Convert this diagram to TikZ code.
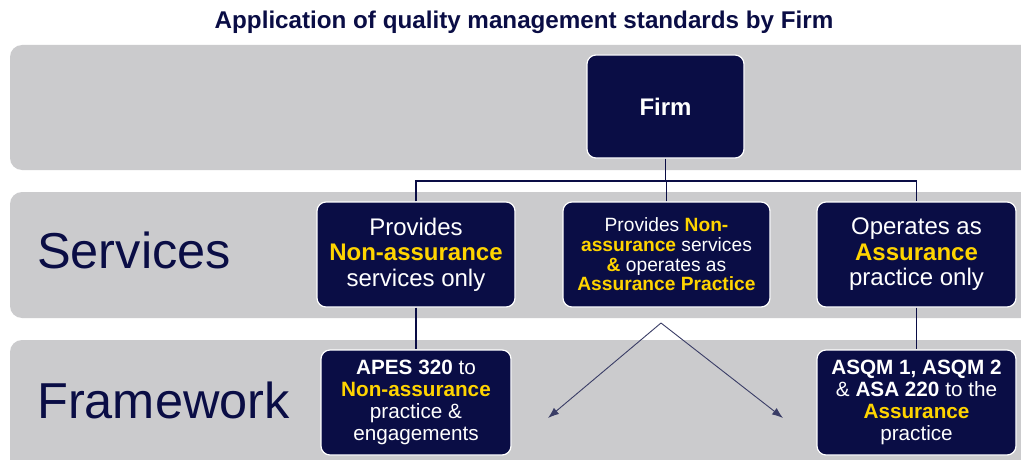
\documentclass[tikz,border=0pt]{standalone}
\usepackage{fontspec}
\setmainfont{Liberation Sans}
\usetikzlibrary{arrows.meta}
\definecolor{navy}{HTML}{0A0D45}
\definecolor{gold}{HTML}{FFD400}
\definecolor{bandgrey}{HTML}{CBCBCD}
\definecolor{arrowgrey}{HTML}{3A3D66}
\newcommand{\hl}[1]{\textcolor{gold}{\textbf{#1}}}

\begin{document}
\begin{tikzpicture}[x=1pt,y=-1pt,
  band/.style={fill=bandgrey, rounded corners=12pt},
  card/.style={draw=white, line width=1.2pt, fill=navy, rounded corners=9pt,
    text=white, align=center, inner sep=0pt},
  bigtext/.style={font=\fontsize{24}{25.5}\selectfont},
  midtext/.style={font=\fontsize{19.2}{19.6}\selectfont},
  lowtext/.style={font=\fontsize{20.7}{22}\selectfont},
  rowlabel/.style={anchor=base west, inner sep=0pt, text=navy,
    font=\fontsize{50.5}{52}\selectfont},
  link/.style={draw=navy, line width=1.8pt},
  pointer/.style={draw=arrowgrey, line width=0.9pt,
    -{Latex[length=11pt,width=8pt]}}]
\useasboundingbox (0,0) rectangle (1021,460);
\fill[white] (0,0) rectangle (1021,460);

% title
\node[anchor=base, inner sep=0pt, text=navy,
  font=\fontsize{24.2}{26}\selectfont\bfseries] (title) at (524,29)
  {Application of quality management standards by Firm};

% grey bands
\fill[band] (10,45) rectangle (1050,170);
\fill[band] (10,192) rectangle (1050,318);
\fill[band] (10,340) rectangle (1050,490);

% row labels
\node[rowlabel] (services) at (37,268) {Services};
\node[rowlabel] (framework) at (37,418) {Framework};

% boxes
\node[card, minimum width=157pt, minimum height=103pt,
  font=\fontsize{24}{26}\selectfont\bfseries] (firm) at (665.5,106.5) {Firm};

\node[card, bigtext, minimum width=198pt, minimum height=105pt] (b1) at (416,254.5)
  {Provides\\\hl{Non-assurance}\\services only};
\node[card, midtext, minimum width=207pt, minimum height=105pt] (b2) at (666.5,254.5)
  {Provides \hl{Non-}\\\hl{assurance} services\\\hl{\&} operates as\\\hl{Assurance Practice}};
\node[card, bigtext, minimum width=199pt, minimum height=105pt] (b3) at (916.5,254.5)
  {Operates as\\\hl{Assurance}\\practice only};

\node[card, lowtext, minimum width=190pt, minimum height=105pt] (b4) at (416,402.5)
  {\textbf{APES 320} to\\\hl{Non-assurance}\\practice \&\\engagements};
\node[card, lowtext, minimum width=199pt, minimum height=105pt] (b5) at (916.5,402.5)
  {\textbf{ASQM 1, ASQM 2}\\\& \textbf{ASA 220} to the\\\hl{Assurance}\\practice};

% tree connectors
\coordinate (bus) at (665.5,181);
\draw[link] (firm.south) -- (firm.south |- bus);
\draw[link] (b1.north) -- (b1.north |- bus) -- (b3.north |- bus) -- (b3.north);
\draw[link] (b2.north) -- (b2.north |- bus);
\draw[link] (b1.south) -- (b4.north);
\draw[link] (b3.south) -- (b5.north);

% split arrows
\coordinate (apex) at (661,323);
\coordinate (tipL) at (548,418);
\coordinate (tipR) at (783,418);
\draw[pointer] (apex) -- (tipL);
\draw[pointer] (apex) -- (tipR);
\end{tikzpicture}
\end{document}
